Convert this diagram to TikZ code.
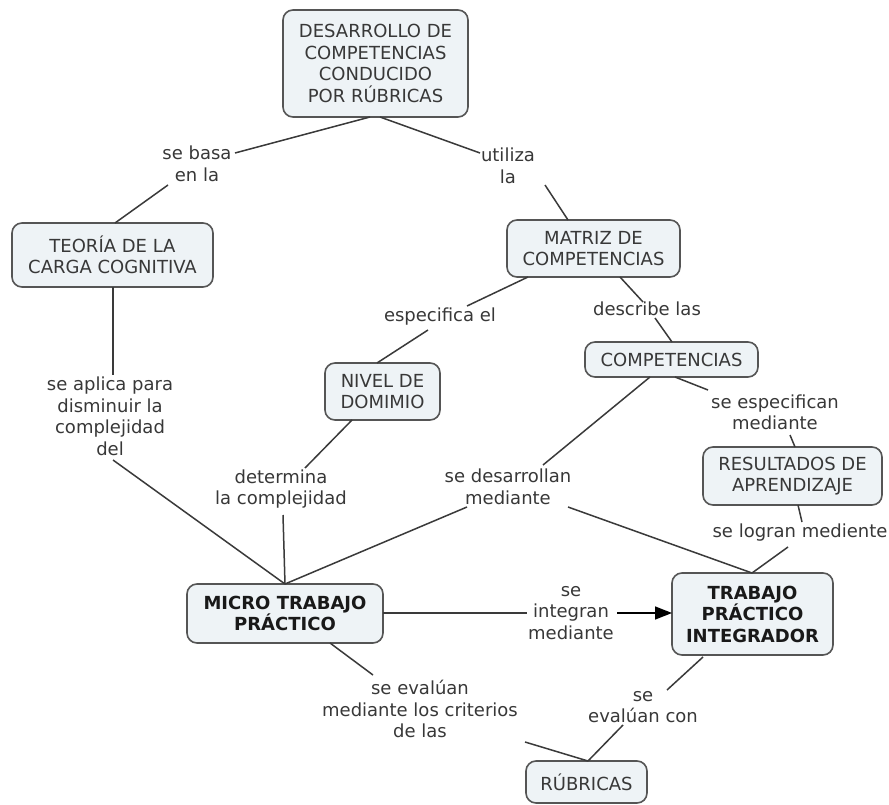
\documentclass[tikz,border=0pt]{standalone}
\usepackage{fontspec}
\setmainfont{DejaVu Sans}
\usetikzlibrary{arrows.meta}
\definecolor{boxfill}{HTML}{EEF3F6}
\definecolor{boxline}{HTML}{555555}
\definecolor{txt}{HTML}{383838}
\definecolor{lnk}{HTML}{3A3A3A}
\begin{document}
\begin{tikzpicture}[x=1pt,y=-1pt,
  box/.style={draw=boxline, line width=1.6pt, fill=boxfill, rounded corners=10pt,
    align=center, text=txt, inner sep=2pt, font=\fontsize{18}{21.5}\selectfont},
  boldbox/.style={box, text=black!90, font=\fontsize{18}{21.5}\selectfont\bfseries},
  lbl/.style={align=center, text=txt, inner sep=0pt, font=\fontsize{18}{21.5}\selectfont},
  link/.style={draw=lnk, line width=1.5pt}]
\fill[white] (0,0) rectangle (889,805);
\useasboundingbox (0,0) rectangle (889,805);
% concept boxes
\node[box, minimum width=185, minimum height=107] (T) at (375.5,63.5) {DESARROLLO DE\\COMPETENCIAS\\CONDUCIDO\\POR RÚBRICAS};
\node[box, minimum width=201, minimum height=64] (Te) at (112.5,255) {TEORÍA DE LA\\CARGA COGNITIVA};
\node[box, minimum width=173, minimum height=57] (M) at (593.5,248.5) {MATRIZ DE\\COMPETENCIAS};
\node[box, minimum width=115, minimum height=57] (N) at (382.5,391.5) {NIVEL DE\\DOMIMIO};
\node[box, minimum width=173, minimum height=35] (C) at (671.5,359.5) {COMPETENCIAS};
\node[box, minimum width=179, minimum height=58] (R) at (792.5,476) {RESULTADOS DE\\APRENDIZAJE};
\node[boldbox, minimum width=196, minimum height=59] (Mi) at (285,613.5) {MICRO TRABAJO\\PRÁCTICO};
\node[boldbox, minimum width=161, minimum height=82] (P) at (752.5,614) {TRABAJO\\PRÁCTICO\\INTEGRADOR};
\node[box, minimum width=121, minimum height=42] (Ru) at (586.5,782) {RÚBRICAS};
% linking phrases
\node[lbl] (L1) at (197,164) {se basa\\en la};
\node[lbl] (L2) at (508,166) {utiliza\\la};
\node[lbl] (L3) at (110,416.5) {se aplica para\\disminuir la\\complejidad\\del};
\node[lbl] (L4) at (440,317) {especifica el};
\node[lbl] (L5) at (647,309) {describe las};
\node[lbl] (L6) at (775,412.5) {se especifican\\mediante};
\node[lbl] (L7) at (281,489) {determina\\la complejidad};
\node[lbl] (L8) at (508,487) {se desarrollan\\mediante};
\node[lbl] (L9) at (800,533) {se logran mediente};
\node[lbl] (L10) at (571,613) {se\\integran\\mediante};
\node[lbl] (L11) at (420,709) {se evalúan\\mediante los criterios\\de las};
\node[lbl] (L12) at (643,707) {se\\evalúan con};
% connectors
\draw[link] ([shift={(-5.5,53.5)}]T.center) -- ([shift={(38,-11)}]L1.center);
\draw[link] ([shift={(-29,21)}]L1.center) -- ([shift={(2.5,-32)}]Te.center);
\draw[link] ([shift={(4.5,53.5)}]T.center) -- ([shift={(-28,-13)}]L2.center);
\draw[link] ([shift={(37,19)}]L2.center) -- ([shift={(-25.5,-28.5)}]M.center);
\draw[link] ([shift={(0.5,32)}]Te.center) -- ([shift={(3,-41.5)}]L3.center);
\draw[link] ([shift={(3,43.5)}]L3.center) -- ([shift={(0,-29.5)}]Mi.center);
\draw[link] ([shift={(-65.5,28.5)}]M.center) -- ([shift={(27,-11)}]L4.center);
\draw[link] ([shift={(-12,13)}]L4.center) -- ([shift={(-5.5,-28.5)}]N.center);
\draw[link] ([shift={(26.5,28.5)}]M.center) -- ([shift={(-4,-7)}]L5.center);
\draw[link] ([shift={(8,9)}]L5.center) -- ([shift={(0.5,-17.5)}]C.center);
\draw[link] ([shift={(3.5,17.5)}]C.center) -- ([shift={(-67,-22.5)}]L6.center);
\draw[link] ([shift={(15,22.5)}]L6.center) -- ([shift={(2.5,-29)}]R.center);
\draw[link] ([shift={(5.5,29)}]R.center) -- ([shift={(2,-11)}]L9.center);
\draw[link] ([shift={(-12,14)}]L9.center) -- ([shift={(-0.5,-41)}]P.center);
\draw[link] ([shift={(-30.5,28.5)}]N.center) -- ([shift={(24,-21)}]L7.center);
\draw[link] ([shift={(2,26)}]L7.center) -- ([shift={(0,-29.5)}]Mi.center);
\draw[link] ([shift={(-21.5,17.5)}]C.center) -- ([shift={(35,-22)}]L8.center);
\draw[link] ([shift={(-41,20)}]L8.center) -- ([shift={(0,-29.5)}]Mi.center);
\draw[link] ([shift={(60,20)}]L8.center) -- ([shift={(-0.5,-41)}]P.center);
\draw[link] ([shift={(98,-0.5)}]Mi.center) -- ([shift={(-44,0)}]L10.center);
\draw[link, draw=black, -{Triangle[length=17pt,width=13pt]}] ([shift={(46,0)}]L10.center) -- ([shift={(-80.5,-1)}]P.center);
\draw[link] ([shift={(45,29.5)}]Mi.center) -- ([shift={(-47,-34)}]L11.center);
\draw[link] ([shift={(105,33)}]L11.center) -- ([shift={(1.5,-21)}]Ru.center);
\draw[link] ([shift={(-49.5,43)}]P.center) -- ([shift={(24,-17)}]L12.center);
\draw[link] ([shift={(-20,18)}]L12.center) -- ([shift={(1.5,-21)}]Ru.center);
\end{tikzpicture}
\end{document}
